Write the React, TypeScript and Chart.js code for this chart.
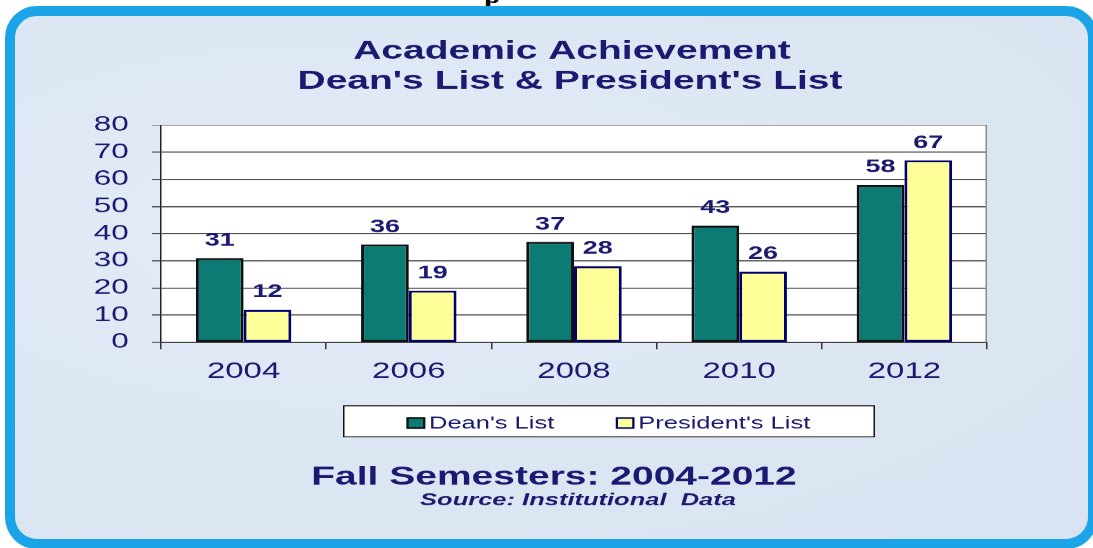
import React, { useEffect, useRef } from 'react';
import { Chart, registerables } from 'chart.js';

Chart.register(...registerables);

// ---- data ----
const categories = ['2004', '2006', '2008', '2010', '2012'];
const deansList = [31, 36, 37, 43, 58];
const presidentsList = [12, 19, 28, 26, 67];
const seriesNames = ["Dean's List", "President's List"];
const yMin = 0;
const yMax = 80;
const yStep = 10;
const titleLines = ['Academic Achievement', "Dean's List & President's List"];
const footerMain = 'Fall Semesters: 2004-2012';
const footerSource = 'Source: Institutional  Data';

// ---- look ----
const PAGE_W = 1093;
const PAGE_H = 548;
const INNER_W = 729; // canvas is drawn at this width and stretched horizontally to PAGE_W
const STRETCH = PAGE_W / INNER_W;
const ix = (pageX: number) => pageX / STRETCH;

const FONT = "'Liberation Sans', Arial, Helvetica, sans-serif";
const NAVY = '#1a1a70';
const TEAL = '#0b7b74';
const YELLOW = '#ffff99';

const plotLeft = ix(161);
const plotRight = ix(987);
const plotTop = 125;
const plotBottom = 342;
const xAxisHeight = 40;

const decorPlugin = {
  id: 'decor',
  beforeDraw(chart: any) {
    const { ctx, chartArea } = chart;
    ctx.save();
    ctx.fillStyle = '#ffffff';
    ctx.fillRect(chartArea.left, chartArea.top, chartArea.right - chartArea.left, chartArea.bottom - chartArea.top);
    ctx.restore();
  },
  afterDatasetsDraw(chart: any) {
    const { ctx, chartArea } = chart;
    ctx.save();
    // right border of plot area
    ctx.strokeStyle = '#8a8a8a';
    ctx.lineWidth = 1;
    ctx.beginPath();
    ctx.moveTo(chartArea.right - 0.5, chartArea.top);
    ctx.lineTo(chartArea.right - 0.5, chartArea.bottom);
    ctx.stroke();

    // value labels
    ctx.fillStyle = NAVY;
    ctx.font = `bold 18px ${FONT}`;
    ctx.textAlign = 'center';
    ctx.textBaseline = 'alphabetic';
    chart.data.datasets.forEach((ds: any, i: number) => {
      const meta = chart.getDatasetMeta(i);
      meta.data.forEach((bar: any, j: number) => {
        ctx.fillText(String(ds.data[j]), bar.x, bar.y - 12.5);
      });
    });
    ctx.restore();
  },
  afterDraw(chart: any) {
    const { ctx } = chart;
    ctx.save();
    // titles
    ctx.fillStyle = NAVY;
    ctx.textAlign = 'center';
    ctx.textBaseline = 'alphabetic';
    ctx.font = `bold 26px ${FONT}`;
    ctx.fillText(titleLines[0], ix(572), 59);
    ctx.fillText(titleLines[1], ix(570), 89);

    // legend box
    const bx = ix(343);
    const bw = ix(875) - bx;
    const by = 405;
    const bh = 32;
    ctx.fillStyle = '#ffffff';
    ctx.fillRect(bx, by, bw, bh);
    ctx.strokeStyle = '#111111';
    ctx.lineWidth = 1;
    ctx.strokeRect(bx + 0.5, by + 0.5, bw - 1, bh - 1);

    ctx.font = `17px ${FONT}`;
    ctx.textAlign = 'left';
    let x = ix(406.5);
    chart.data.datasets.forEach((ds: any) => {
      ctx.fillStyle = ds.backgroundColor;
      ctx.fillRect(x, 417, 12.5, 11.5);
      ctx.strokeStyle = ds.borderColor;
      ctx.lineWidth = 1.5;
      ctx.strokeRect(x + 0.75, 417.75, 11, 10);
      ctx.fillStyle = NAVY;
      ctx.fillText(ds.label, x + 15, 428.5);
      x += 15 + ctx.measureText(ds.label).width + 41;
    });

    // footer
    ctx.textAlign = 'center';
    ctx.fillStyle = NAVY;
    ctx.font = `bold 26px ${FONT}`;
    ctx.fillText(footerMain, ix(554), 484);
    ctx.font = `italic bold 17px ${FONT}`;
    ctx.fillText(footerSource, ix(578), 505);
    ctx.restore();
  },
};

function ChartCanvas() {
  const ref = useRef<HTMLCanvasElement | null>(null);
  useEffect(() => {
    const canvas = ref.current;
    if (!canvas) return;
    const chart = new Chart(canvas, {
      type: 'bar',
      data: {
        labels: categories,
        datasets: [
          {
            label: seriesNames[0],
            data: deansList,
            backgroundColor: TEAL,
            borderColor: '#101010',
            borderWidth: 2,
            borderSkipped: false,
          },
          {
            label: seriesNames[1],
            data: presidentsList,
            backgroundColor: YELLOW,
            borderColor: '#00006e',
            borderWidth: 2,
            borderSkipped: false,
          },
        ],
      },
      options: {
        responsive: false,
        animation: false,
        devicePixelRatio: STRETCH,
        events: [],
        layout: {
          padding: {
            top: plotTop,
            left: 0,
            right: INNER_W - plotRight,
            bottom: PAGE_H - plotBottom - xAxisHeight,
          },
        },
        datasets: {
          bar: { categoryPercentage: 0.578, barPercentage: 1 },
        },
        plugins: {
          legend: { display: false },
          title: { display: false },
          tooltip: { enabled: false },
        },
        scales: {
          x: {
            grid: {
              offset: true,
              drawOnChartArea: false,
              color: '#333333',
              tickLength: 7,
            },
            border: { color: '#222222', width: 1 },
            ticks: {
              color: NAVY,
              font: { family: FONT, size: 22 },
              padding: 9,
            },
            afterFit: (s: any) => {
              s.height = xAxisHeight;
            },
          },
          y: {
            min: yMin,
            max: yMax,
            grid: {
              color: (c: any) => (c.tick && c.tick.value === yMax ? '#8a8a8a' : '#333333'),
              tickLength: 6,
            },
            border: { color: '#222222', width: 1 },
            ticks: {
              stepSize: yStep,
              autoSkip: false,
              color: NAVY,
              font: { family: FONT, size: 21 },
              padding: 15.5,
            },
            afterFit: (s: any) => {
              s.width = plotLeft;
            },
          },
        },
      },
      plugins: [decorPlugin],
    });
    return () => chart.destroy();
  }, []);
  return (
    <canvas
      ref={ref}
      width={INNER_W}
      height={PAGE_H}
      style={{ position: 'absolute', left: 0, top: 0, width: PAGE_W + 'px', height: PAGE_H + 'px' }}
    />
  );
}

export default function App() {
  return (
    <div
      style={{
        position: 'absolute',
        left: 0,
        top: 0,
        width: PAGE_W,
        height: PAGE_H,
        overflow: 'hidden',
        background: '#ffffff',
      }}
    >
      <span
        style={{
          position: 'absolute',
          left: 484,
          top: -22,
          fontFamily: "'Liberation Serif', 'Times New Roman', serif",
          fontWeight: 'bold',
          fontSize: 30,
          lineHeight: '30px',
          color: '#000',
        }}
      >
        p
      </span>
      <div
        style={{
          position: 'absolute',
          left: 5,
          top: 6,
          width: 1093,
          height: 543,
          boxSizing: 'border-box',
          border: '10px solid #1ba5e8',
          borderRadius: 32,
          background: 'radial-gradient(ellipse at 30% 40%, #e3ebf6 0%, #dce6f3 60%, #d8e3f1 100%)',
        }}
      />
      <ChartCanvas />
    </div>
  );
}
